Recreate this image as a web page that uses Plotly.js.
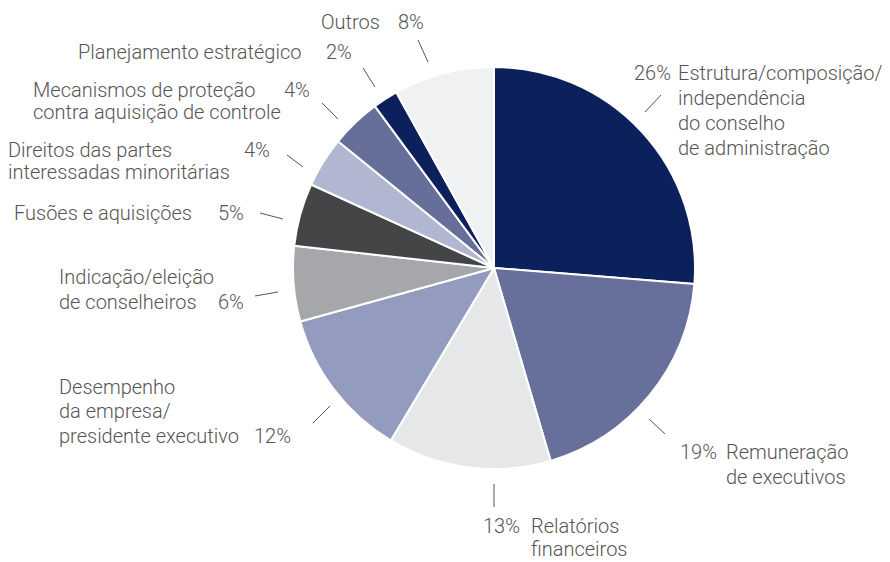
<!DOCTYPE html>
<html>
<head>
<meta charset="utf-8">
<script src="https://cdn.plot.ly/plotly-3.0.1.min.js"></script>
<style>html,body{margin:0;padding:0;background:#fff;}#chart{width:890px;height:562px;}</style>
</head>
<body>
<div id="chart"></div>
<script>
// ---- data ----
const categories = [
  "Estrutura/composição/independência do conselho de administração",
  "Remuneração de executivos",
  "Relatórios financeiros",
  "Desempenho da empresa/presidente executivo",
  "Indicação/eleição de conselheiros",
  "Fusões e aquisições",
  "Direitos das partes interessadas minoritárias",
  "Mecanismos de proteção contra aquisição de controle",
  "Planejamento estratégico",
  "Outros"
];
const values = [26, 19, 13, 12, 6, 5, 4, 4, 2, 8];
const percentLabels = ["26%", "19%", "13%", "12%", "6%", "5%", "4%", "4%", "2%", "8%"];

// ---- styles ----
const colors = ["#0c215c", "#66709b", "#e6e7e9", "#939cbf", "#a6a7aa",
                "#444547", "#b2b7d1", "#666f99", "#0c215c", "#f0f1f3"];

const W = 890, H = 562;
const px = x => x / W;
const py = y => 1 - y / H;

// label layout: text lines (pixel positions), leader line endpoints
const labelLayout = [
  { lines: [[677, 73, "Estrutura/composição/"], [677, 98, "independência"], [677, 123, "do conselho"], [677, 148, "de administração"]],
    pct: [672, 73, "right"], lead: [645, 112, 661, 95] },
  { lines: [[725, 452, "Remuneração"], [725, 477, "de executivos"]],
    pct: [718, 452, "right"], lead: [649, 419, 665, 434] },
  { lines: [[530, 526, "Relatórios"], [530, 549, "financeiros"]],
    pct: [521, 526, "right"], lead: [494, 484, 494, 507] },
  { lines: [[58, 387, "Desempenho"], [58, 411, "da empresa/"], [58, 436, "presidente executivo"]],
    pct: [253, 436, "left"], lead: [313, 423, 330, 406] },
  { lines: [[58, 277, "Indicação/eleição"], [58, 302, "de conselheiros"]],
    pct: [217, 302, "left"], lead: [255, 296, 278, 292] },
  { lines: [[13, 213, "Fusões e aquisições"]],
    pct: [217, 213, "left"], lead: [260, 213, 283, 219] },
  { lines: [[7, 150, "Direitos das partes"], [7, 172, "interessadas minoritárias"]],
    pct: [243, 150, "left"], lead: [287, 155, 303, 167] },
  { lines: [[32, 90, "Mecanismos de proteção"], [32, 112, "contra aquisição de controle"]],
    pct: [283, 90, "left"], lead: [322, 103, 338, 119] },
  { lines: [[77, 52, "Planejamento estratégico"]],
    pct: [325, 52, "left"], lead: [363, 68, 375, 87] },
  { lines: [[320, 22, "Outros"]],
    pct: [397, 22, "left"], lead: [418, 40, 428, 62] }
];

const font = { family: "Roboto, Liberation Sans, Arial, sans-serif", size: 20, weight: 300, color: "#555555" };
const annotations = [];
const shapes = [];
labelLayout.forEach((L, i) => {
  L.lines.forEach(([x, y, t]) => {
    annotations.push({ xref: "paper", yref: "paper", x: px(x), y: py(y), text: t,
      showarrow: false, xanchor: "left", yanchor: "middle", borderpad: 0, font: font });
  });
  annotations.push({ xref: "paper", yref: "paper", x: px(L.pct[0]), y: py(L.pct[1]),
    text: percentLabels[i], showarrow: false, xanchor: L.pct[2], yanchor: "middle", borderpad: 0, font: font });
  const [x0, y0, x1, y1] = L.lead;
  shapes.push({ type: "line", xref: "paper", yref: "paper",
    x0: px(x0), y0: py(y0), x1: px(x1), y1: py(y1), line: { color: "#555555", width: 1 } });
});

const trace = {
  type: "pie",
  labels: categories,
  values: values,
  sort: false,
  direction: "clockwise",
  rotation: 0,
  textinfo: "none",
  hoverinfo: "none",
  showlegend: false,
  marker: { colors: colors, line: { color: "#ffffff", width: 2 } },
  domain: { x: [px(293), px(695)], y: [py(469), py(67)] }
};

const layout = {
  width: W, height: H,
  margin: { l: 0, r: 0, t: 0, b: 0 },
  paper_bgcolor: "#ffffff",
  showlegend: false,
  annotations: annotations,
  shapes: shapes
};

Plotly.newPlot("chart", [trace], layout, { displayModeBar: false, staticPlot: true });
</script>
</body>
</html>
